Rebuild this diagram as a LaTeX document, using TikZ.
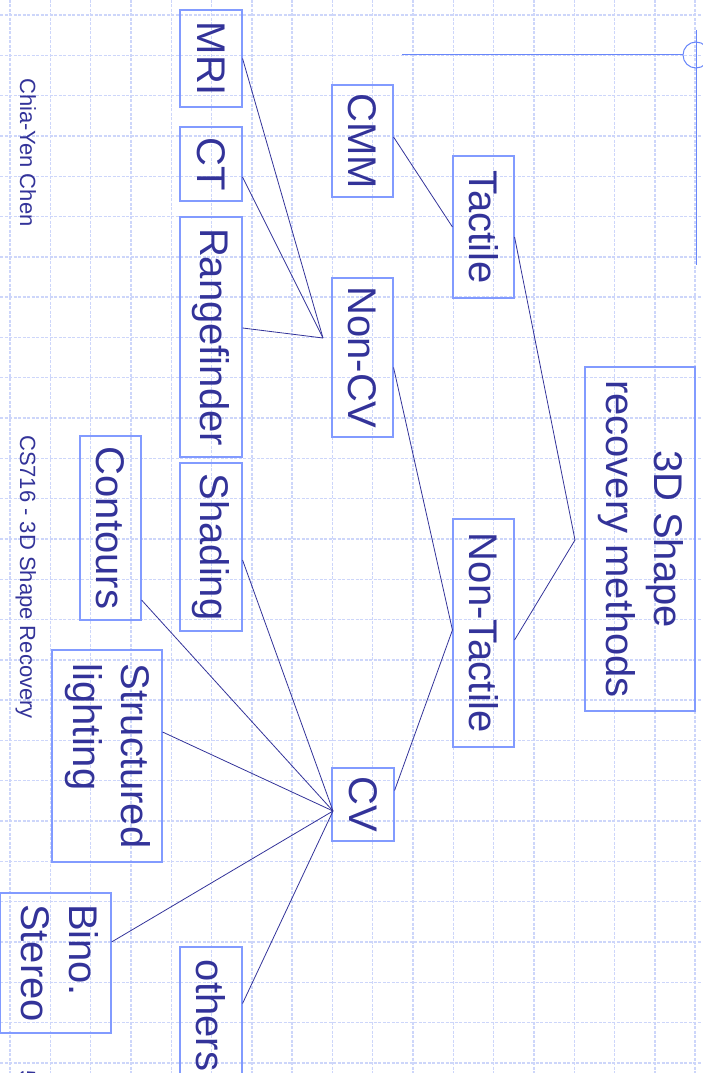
\documentclass[tikz,border=0pt]{standalone}
\usepackage{fontspec}
\usepackage{graphicx}
\setmainfont{Liberation Sans}
\usetikzlibrary{calc}

\definecolor{inkblue}{RGB}{51,51,153}
\definecolor{boxblue}{RGB}{130,155,255}
\definecolor{gridblue}{RGB}{205,214,250}
\definecolor{decoblue}{RGB}{105,135,250}

\newcommand{\vtext}[1]{\rotatebox{-90}{#1}}
\newcommand{\vtwo}[3]{\rotatebox{-90}{\begin{tabular}{@{}#1@{}}#2\\#3\end{tabular}}}

\begin{document}
\begin{tikzpicture}[x=1pt, y=-1pt,
    box/.style={rectangle, draw=boxblue, line width=1.1pt, inner sep=0pt, text=inkblue, font=\fontsize{40}{48}\selectfont},
    link/.style={draw=inkblue, line width=0.8pt},
    gridline/.style={gridblue, line width=1.4pt, dash pattern=on 3pt off 1.5pt},
    footer/.style={rotate=-90, anchor=base west, inner sep=0pt, text=inkblue, font=\fontsize{22}{26}\selectfont},
]
\useasboundingbox (0,0) rectangle (702,1073);

% background grid
\foreach \g in {0,...,17} \draw[gridline] (10+40.3*\g,0) -- (10+40.3*\g,1073);
\foreach \g in {0,...,26} \draw[gridline] (0,15+40.3*\g) -- (702,15+40.3*\g);

% title decoration
\draw[decoblue, line width=1pt] (402,55) -- (683,55);
\draw[decoblue, line width=1pt] (696,55) circle (13);
\draw[decoblue, line width=1pt] (696,30) -- (696,265);

% root
\node[box, minimum width=110pt, minimum height=344pt] (root) at (640,539) {\vtwo{c}{3D Shape}{recovery methods}};

% second level
\node[box, minimum width=61pt, minimum height=142pt] (tactile) at (483.5,227) {\vtext{Tactile}};
\node[box, minimum width=61pt, minimum height=228pt] (nontactile) at (483.5,633) {\vtext{Non-Tactile}};

% third level
\node[box, minimum width=61pt, minimum height=112pt] (cmm) at (362.5,141) {\vtext{CMM}};
\node[box, minimum width=61pt, minimum height=159pt] (noncv) at (362.5,357.5) {\vtext{Non-CV}};
\node[box, minimum width=62pt, minimum height=73pt] (cv) at (363,804.5) {\vtext{CV}};

% leaves
\node[box, minimum width=62pt, minimum height=97pt] (mri) at (211,58.5) {\vtext{MRI}};
\node[box, minimum width=62pt, minimum height=74pt] (ct) at (211,164) {\vtext{CT}};
\node[box, minimum width=62pt, minimum height=240pt] (range) at (211,337) {\vtext{Rangefinder}};
\node[box, minimum width=62pt, minimum height=168pt] (shading) at (211,547) {\vtext{Shading}};
\node[box, minimum width=61pt, minimum height=184pt] (contours) at (110.5,528) {\vtext{Contours}};
\node[box, minimum width=110pt, minimum height=212pt] (struct) at (107,756) {\vtwo{l}{Structured}{lighting}};
\node[box, minimum width=111pt, minimum height=140pt] (bino) at (55.5,963) {\vtwo{l}{Bino.}{Stereo}};
\node[box, minimum width=62pt, minimum height=137pt] (others) at (211,1015.5) {\vtext{others}};

% joins
\coordinate (ncvjoin) at (323,338);
\coordinate (cvjoin) at (333,811);
\coordinate (rootjoin) at (575,540);

% connectors
\draw[link] ([yshift=-10pt]tactile.east) -- (rootjoin);
\draw[link] ([yshift=-7pt]nontactile.east) -- (rootjoin);
\draw[link] ([yshift=4pt]cmm.east) -- (tactile.west);
\draw[link] ([yshift=-10pt]noncv.east) -- ([yshift=3pt]nontactile.west);
\draw[link] ([yshift=14pt]cv.east) -- ([yshift=3pt]nontactile.west);

\draw[link] (mri.east) -- (ncvjoin);
\draw[link] ([yshift=-13pt]ct.east) -- (ncvjoin);
\draw[link] ([yshift=9pt]range.east) -- (ncvjoin);

\draw[link] ([yshift=-13pt]shading.east) -- (cvjoin);
\draw[link] ([yshift=-72pt]contours.east) -- (cvjoin);
\draw[link] ([yshift=24pt]struct.east) -- (cvjoin);
\draw[link] ([yshift=21pt]bino.east) -- (cvjoin);
\draw[link] ([yshift=12pt]others.east) -- (cvjoin);

% footer
\node[footer] (author) at (20,78) {Chia-Yen Chen};
\node[footer] (course) at (20,435) {CS716 - 3D Shape Recovery};
\node[footer] (pageno) at (20,1070) {5};

\end{tikzpicture}
\end{document}
